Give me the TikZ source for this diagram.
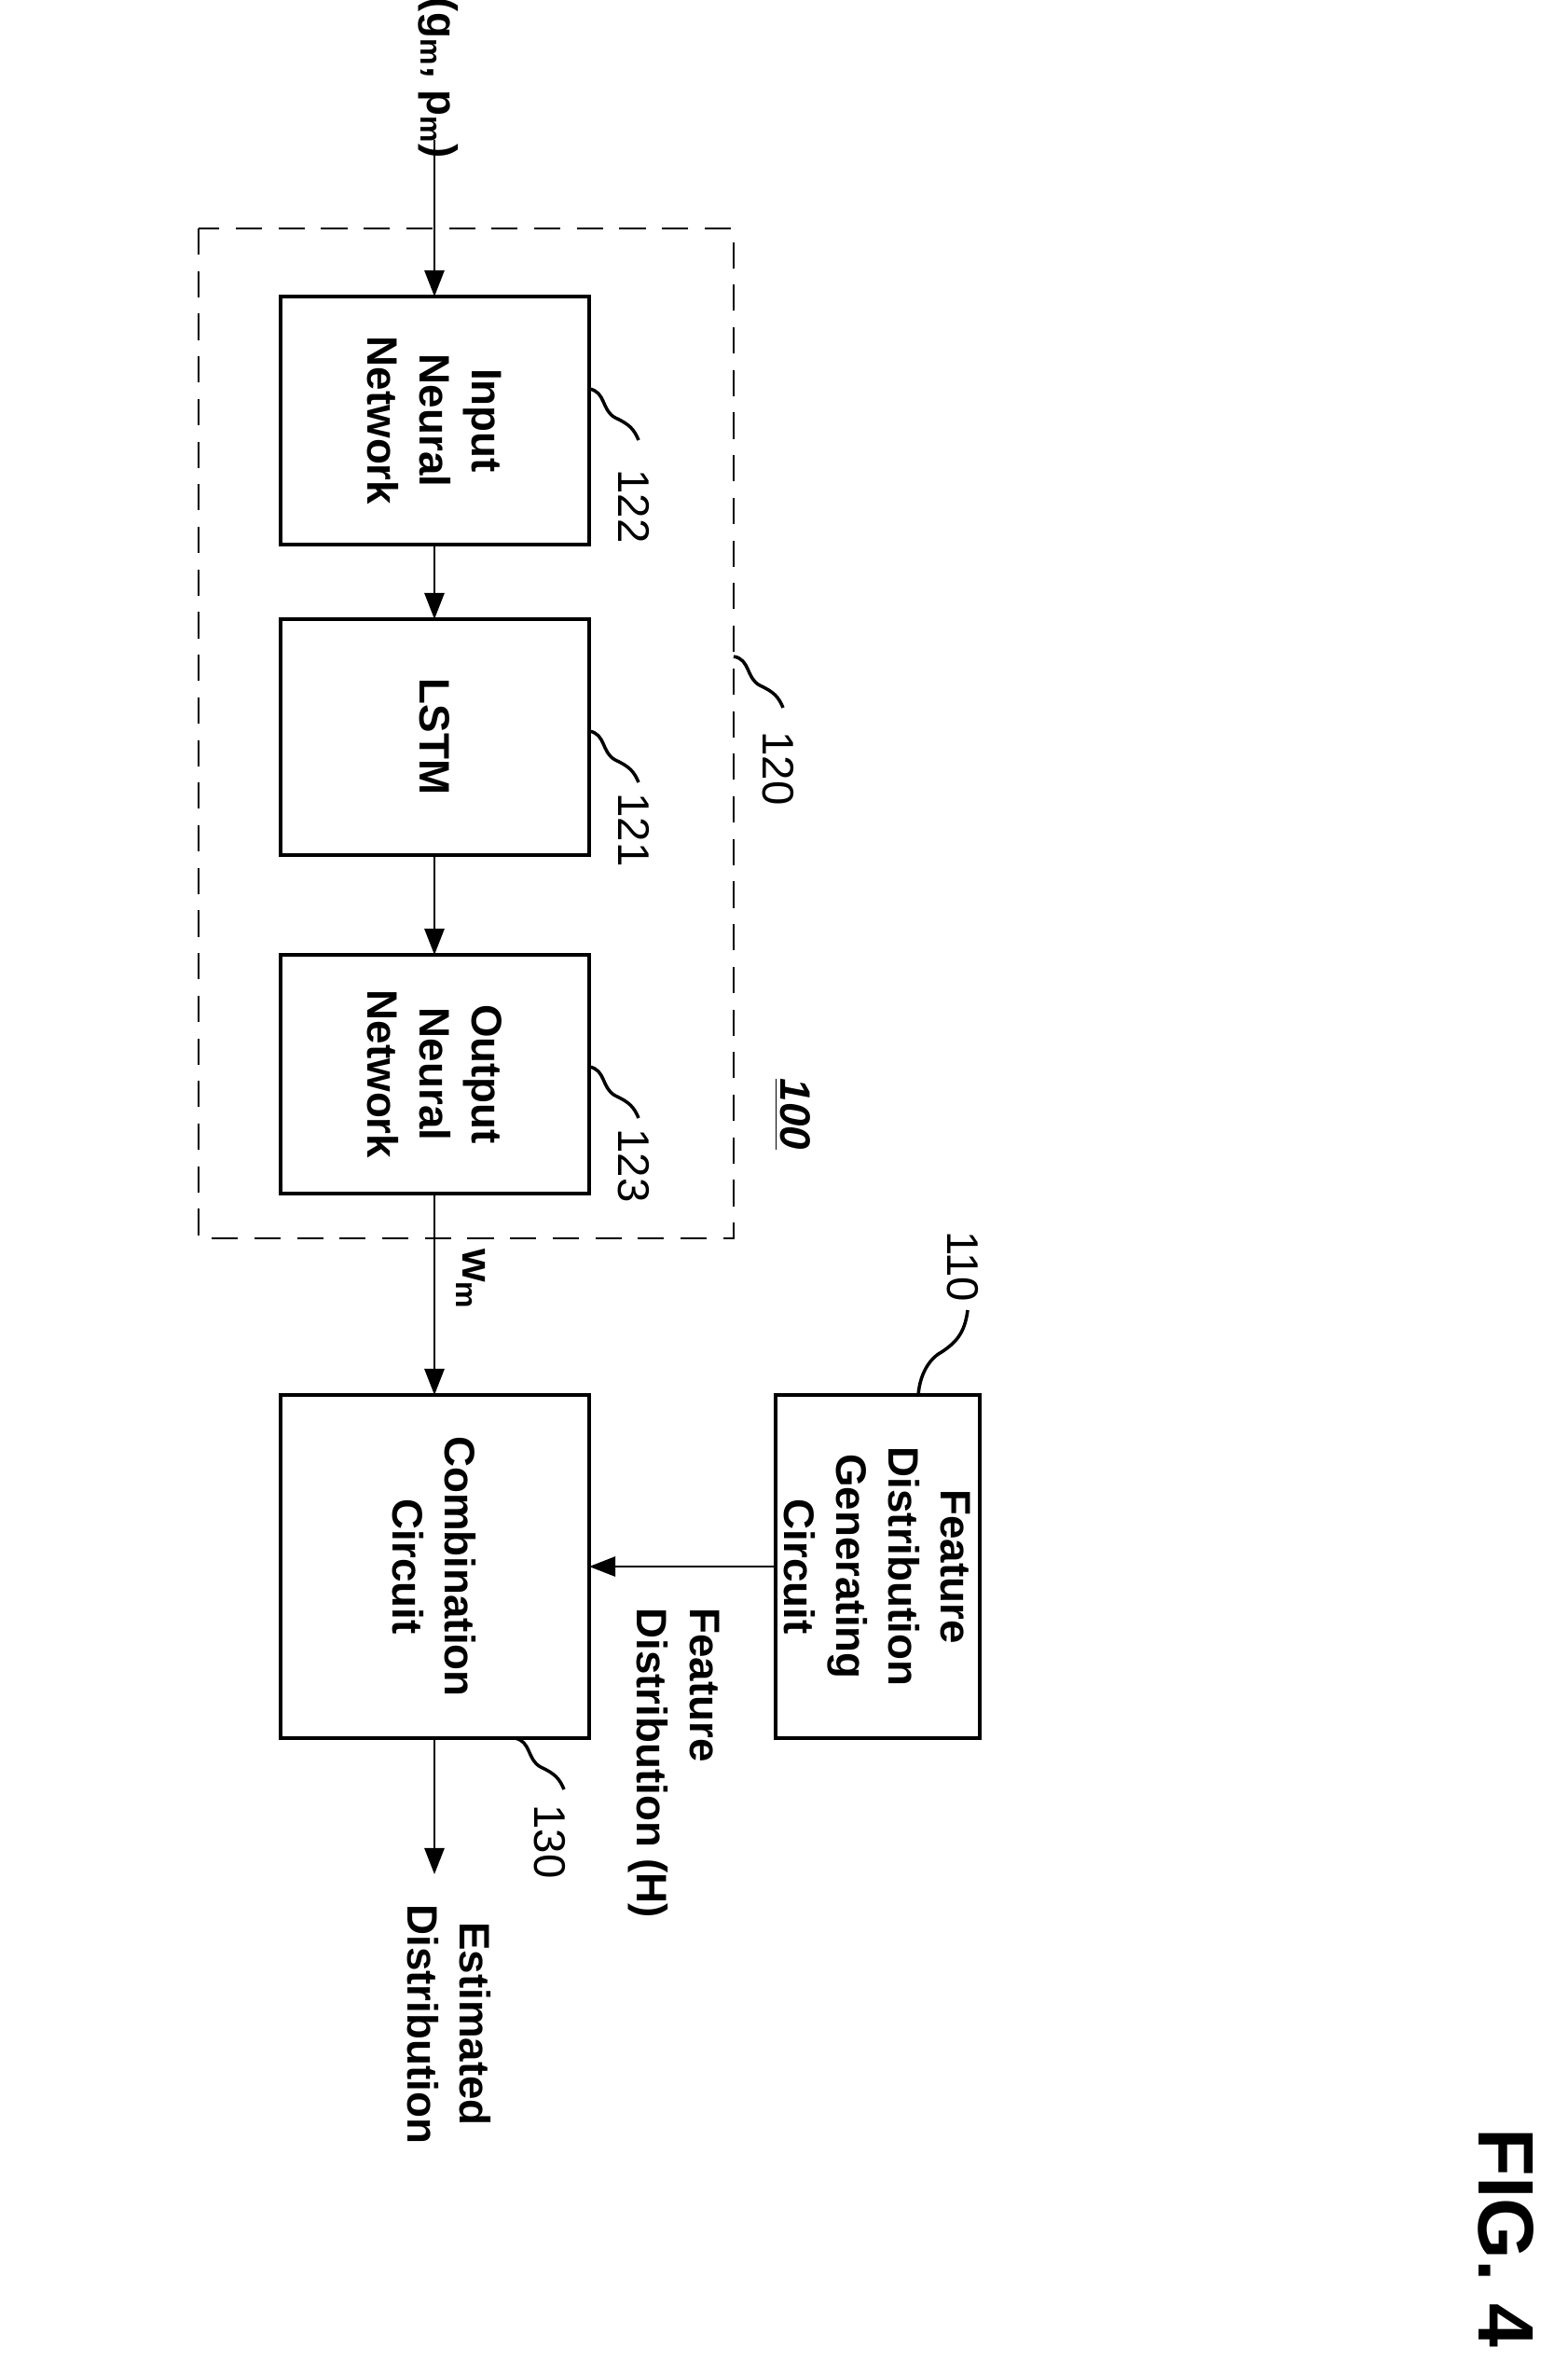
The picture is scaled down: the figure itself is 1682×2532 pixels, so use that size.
\documentclass[tikz,border=0pt]{standalone}
\usepackage{fontspec}
\setmainfont{Liberation Sans}
\usetikzlibrary{arrows.meta}
\begin{document}
\begin{tikzpicture}[x=0.01cm,y=-0.01cm,
  box/.style={draw,line width=1.2pt},
  lab/.style={rotate=-90,font=\fontsize{13}{16}\selectfont\bfseries,align=center},
  num/.style={rotate=-90,font=\fontsize{13.5}{16}\selectfont},
  arr/.style={line width=0.8pt,-{Triangle[length=8pt,width=6pt]}},
  sq/.style={line width=1pt}]
\useasboundingbox (0,0) rectangle (1682,2532);
\draw[dashed,line width=0.8pt,dash pattern=on 8pt off 5pt] (213,245) rectangle (787,1328);
\draw[box] (301,318) rectangle (632,584); \coordinate (inT) at (466,318); \coordinate (inB) at (466,584);
\draw[box] (301,664) rectangle (632,917); \coordinate (lsT) at (466,664); \coordinate (lsB) at (466,917);
\draw[box] (301,1024) rectangle (632,1280); \coordinate (outT) at (466,1024); \coordinate (outB) at (466,1280);
\draw[box] (301,1496) rectangle (632,1864); \coordinate (cT) at (466,1496); \coordinate (cB) at (466,1864); \coordinate (cR) at (632,1680);
\draw[box] (832,1496) rectangle (1051,1864); \coordinate (fL) at (832,1680);
\node[lab] (t1) at (466,451) {Input\\Neural\\Network};
\node[lab] (t2) at (466,790) {LSTM};
\node[lab] (t3) at (466,1152) {Output\\Neural\\Network};
\node[lab] (t4) at (466,1680) {Combination\\Circuit};
\node[lab] (t5) at (941,1680) {Feature\\Distribution\\Generating\\Circuit};
\coordinate (src) at (466,150);
\node[lab] (gp) at (470,84) {(g$_\mathbf{m}$, p$_\mathbf{m}$)};
\draw[arr] (src) -- (inT);
\draw[arr] (inB) -- (lsT);
\draw[arr] (lsB) -- (outT);
\draw[arr] (outB) -- (cT);
\draw[arr] (fL) -- (cR);
\coordinate (est) at (466,2010);
\draw[arr] (cB) -- (est);
\node[lab] (wm) at (505,1372) {w$_\mathbf{m}$};
\node[lab,align=left,anchor=north west] (fd) at (784,1712) {Feature\\Distribution (H)};
\node[lab,anchor=west] (ed) at (482,2030) {Estimated\\Distribution};
\node[rotate=-90,font=\fontsize{13}{16}\selectfont\bfseries\itshape] (hundred) at (850,1195) {\underline{100}};
\node[rotate=-90,font=\fontsize{24}{28}\selectfont\bfseries] (fig) at (1616,2400) {FIG. 4};
% reference numerals
\draw[sq] (632,417) .. controls (650,420) and (645,440) .. (660,448) .. controls (675,455) and (680,460) .. (685,472);
\node[num] (n122) at (680,543) {122};
\draw[sq] (632,784) .. controls (650,787) and (645,807) .. (660,815) .. controls (675,822) and (680,827) .. (685,839);
\node[num] (n121) at (680,890) {121};
\draw[sq] (632,1144) .. controls (650,1147) and (645,1167) .. (660,1175) .. controls (675,1182) and (680,1187) .. (685,1199);
\node[num] (n123) at (680,1250) {123};
\draw[sq] (787,704) .. controls (805,707) and (800,727) .. (815,735) .. controls (830,742) and (835,747) .. (840,759);
\node[num] (n120) at (835,824) {120};
\draw[sq] (985,1496) .. controls (987,1470) and (1000,1455) .. (1010,1450) .. controls (1025,1440) and (1035,1430) .. (1038,1405);
\node[num] (n110) at (1033,1358) {110};
\draw[sq] (552,1864) .. controls (570,1867) and (565,1887) .. (580,1895) .. controls (595,1902) and (600,1907) .. (605,1919);
\node[num] (n130) at (590,1975) {130};
\end{tikzpicture}
\end{document}
